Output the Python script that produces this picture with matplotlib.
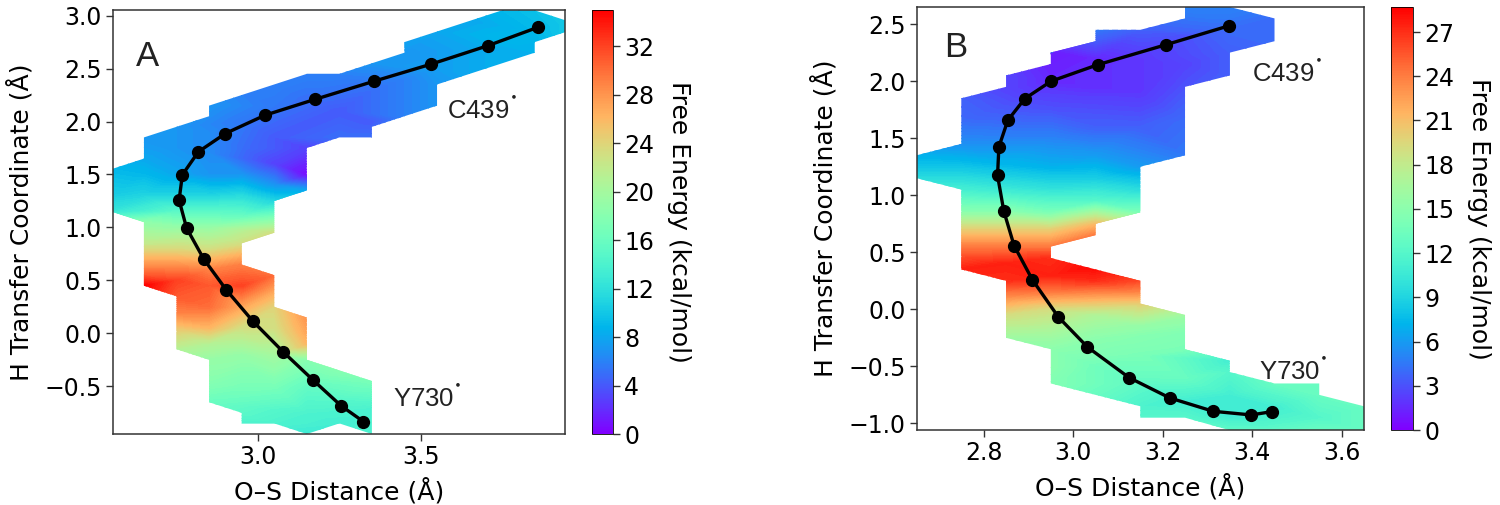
import matplotlib
matplotlib.use('Agg')
import numpy as np
import matplotlib.pyplot as plt
from matplotlib.path import Path

# Panel A: free energy read per column of the O-S grid
a_cols = [2.55, 2.65, 2.75, 2.85, 2.95, 3.05, 3.15, 3.25, 3.35, 3.45, 3.55, 3.65, 3.75, 3.85, 3.95]
a_y = [
    [1.55, 1.3, 1.15],
    [1.85, 1.65, 1.5, 1.3, 1.05, 0.85, 0.7, 0.55, 0.45],
    [1.95, 1.75, 1.5, 1.3, 1.15, 1.0, 0.8, 0.65, 0.5, 0.35, 0.2, 0.05, -0.15],
    [2.15, 1.9, 1.7, 1.5, 1.3, 1.15, 1.0, 0.8, 0.6, 0.45, 0.25, 0.05, -0.1, -0.25, -0.45, -0.65],
    [2.25, 2.0, 1.75, 1.5, 1.3, 1.1, 0.85, 0.65, 0.45, 0.25, 0.05, -0.2, -0.5, -0.85],
    [2.35, 2.15, 1.85, 1.6, 1.4, 1.25, 0.95, 0.55, 0.4, 0.25, 0.05, -0.2, -0.5, -0.85],
    [2.45, 2.2, 1.75, 1.5, 1.35, 0.15, 0.0, -0.1, -0.25, -0.5, -0.75, -0.95],
    [2.45, 2.1, 1.85, -0.35, -0.6, -0.85],
    [2.55, 2.3, 2.0, 1.85, -0.45, -0.7, -0.95],
    [2.65, 2.4, 2.05],
    [2.85, 2.5, 2.35, 2.15],
    [2.95, 2.7, 2.45],
    [3.05, 2.8, 2.55],
    [3.05, 2.85, 2.65],
    [2.95, 2.85],
]
a_energy = [
    [9, 10.5, 12.5],
    [7, 8, 9, 11, 18.5, 22, 26.5, 31, 35],
    [7, 7, 8, 11, 15, 19, 23.5, 28, 32, 31, 29, 25, 21],
    [7, 6.5, 6.5, 7, 11, 15, 19, 23, 29, 31, 30, 26, 21, 19, 18, 16],
    [6, 5.5, 5, 7, 11.5, 16, 23, 29, 32, 27, 23, 19, 17, 14],
    [6, 5.5, 4, 3, 7, 11, 23, 30, 27, 24, 23, 20, 17, 14],
    [6, 5, 3, 0.5, 8, 28, 27, 26, 18, 15.5, 14, 13],
    [6, 4, 5, 18, 15, 13.5],
    [7, 5, 4, 5, 17, 14, 14],
    [7, 6, 6],
    [8, 7.5, 7, 7],
    [8, 8, 8],
    [9, 9, 8.5],
    [9.5, 9, 8.5],
    [10, 10],
]
a_edge_x = [2.55, 2.65, 2.65, 2.85, 2.85, 3.15, 3.25, 3.45, 3.45, 3.75, 3.85, 3.95, 3.95, 3.85, 3.85,
            3.55, 3.55, 3.35, 3.35, 3.25, 3.15, 3.15, 3.05, 3.05, 2.95, 2.95, 3.05, 3.05, 3.15, 3.15,
            3.35, 3.35, 3.25, 3.15, 3.05, 2.95, 2.95, 2.85, 2.85, 2.75, 2.75, 2.65, 2.65, 2.55]
a_edge_y = [1.55, 1.65, 1.85, 2.05, 2.15, 2.45, 2.45, 2.65, 2.75, 3.05, 3.05, 2.95, 2.85, 2.75, 2.65,
            2.35, 2.15, 1.95, 1.85, 1.85, 1.75, 1.35, 1.25, 0.95, 0.85, 0.65, 0.55, 0.25, 0.15, -0.25,
            -0.45, -0.95, -0.85, -0.95, -0.85, -0.85, -0.75, -0.65, -0.25, -0.15, 0.35, 0.45, 1.05, 1.15]
a_path_x = [3.86, 3.707, 3.53, 3.356, 3.176, 3.022, 2.90, 2.817, 2.768, 2.758, 2.781, 2.834, 2.903, 2.985, 3.078, 3.169, 3.256, 3.324]
a_path_y = [2.89, 2.717, 2.54, 2.38, 2.21, 2.06, 1.887, 1.714, 1.497, 1.258, 0.994, 0.70, 0.41, 0.113, -0.176, -0.44, -0.685, -0.833]

# Panel B
b_cols = [2.65, 2.75, 2.85, 2.95, 3.05, 3.15, 3.25, 3.35, 3.45, 3.55, 3.65]
b_y = [
    [1.35, 1.25, 1.15],
    [1.85, 1.65, 1.45, 1.25, 1.05, 0.85, 0.7, 0.55, 0.45, 0.35],
    [2.05, 1.8, 1.5, 1.25, 1.05, 0.85, 0.7, 0.55, 0.4, 0.25, 0.1, -0.05, -0.25],
    [2.25, 2.0, 1.75, 1.5, 1.25, 1.05, 0.85, 0.7, 0.55, 0.45, 0.3, 0.15, 0.0, -0.2, -0.35, -0.5, -0.65],
    [2.45, 2.2, 1.9, 1.6, 1.35, 1.15, 0.95, 0.75, 0.65, 0.38, 0.25, 0.1, -0.05, -0.25, -0.5, -0.75],
    [2.45, 2.2, 1.9, 1.6, 1.25, 1.05, 0.85, 0.25, 0.15, 0.05, -0.15, -0.4, -0.65, -0.85, -0.95],
    [2.65, 2.4, 2.15, 1.95, 1.65, 1.35, -0.05, -0.2, -0.35, -0.6, -0.8, -0.95],
    [2.65, 2.45, 2.25, 2.05, -0.45, -0.55, -0.75, -0.95, -1.06],
    [2.55, 2.35, -0.65, -0.85, -1.06],
    [-0.65, -0.75, -0.95, -1.06],
    [-0.85, -1.06],
]
b_energy = [
    [7, 8, 9.5],
    [3.5, 4, 5.5, 8, 11, 15, 20, 24, 26, 27.5],
    [2.5, 3, 5, 7.5, 10.5, 15, 20, 24, 27.5, 27, 23, 19, 16],
    [1, 1.5, 3, 5, 7, 10, 14, 20, 24, 27, 27.5, 24, 19, 16.5, 15, 15, 14.5],
    [4.5, 1.5, 2, 3.5, 6, 8.5, 12, 21, 24, 28.5, 27, 22, 17, 15, 13.5, 13],
    [3.5, 2, 2, 3.5, 6, 9.5, 14, 26, 23.5, 20, 15.5, 14, 12.5, 11.5, 12],
    [5, 3, 2.5, 3, 4, 4.5, 16, 14.5, 14, 13, 11, 12],
    [5, 4, 3.5, 3.5, 11, 12, 11, 11, 12.5],
    [4, 4, 13, 11, 12.5],
    [13, 13, 12, 13],
    [13, 13],
]
b_edge_x = [2.65, 2.75, 2.75, 2.85, 2.85, 2.95, 2.95, 3.05, 3.05, 3.15, 3.25, 3.25, 3.35, 3.45, 3.45,
            3.35, 3.35, 3.25, 3.25, 3.15, 3.15, 3.05, 3.05, 2.95, 2.95, 3.15, 3.15, 3.25, 3.25, 3.35,
            3.35, 3.45, 3.55, 3.55, 3.65, 3.65, 3.35, 3.25, 3.15, 3.15, 2.95, 2.95, 2.85, 2.85, 2.75, 2.75, 2.65]
b_edge_y = [1.35, 1.45, 1.85, 1.95, 2.05, 2.15, 2.25, 2.35, 2.45, 2.45, 2.55, 2.65, 2.65, 2.55, 2.35,
            2.25, 2.05, 1.95, 1.35, 1.25, 0.85, 0.75, 0.65, 0.55, 0.45, 0.25, 0.05, -0.05, -0.35, -0.45,
            -0.55, -0.65, -0.65, -0.75, -0.85, -1.06, -1.06, -0.95, -0.95, -0.85, -0.65, -0.35, -0.25, 0.25, 0.35, 1.05, 1.15]
b_path_x = [3.348, 3.208, 3.055, 2.951, 2.892, 2.854, 2.834, 2.831, 2.845, 2.868, 2.909, 2.967, 3.032, 3.125, 3.216, 3.313, 3.398, 3.444]
b_path_y = [2.485, 2.32, 2.144, 2.0, 1.847, 1.657, 1.424, 1.173, 0.861, 0.558, 0.258, -0.068, -0.331, -0.599, -0.777, -0.894, -0.926, -0.897]

W, H = 1500, 505
SPINE = '#333333'
FS_TICK = 17
FS_LABEL = 18


def px_axes(fig, left, top, right, bottom):
    return fig.add_axes([left / W, 1 - bottom / H, (right - left) / W, (bottom - top) / H])


def panel(fig, box, cbox, cols, ys, energy, edge_x, edge_y, path_x, path_y, vmax, xlim, ylim,
          xticks, yticks, cticks, letter, letter_xy, c_xy, y_xy):
    ax = px_axes(fig, *box)
    cax = px_axes(fig, *cbox)

    # flatten the columns to scattered nodes
    xs = np.concatenate([[c] * len(y) for c, y in zip(cols, ys)])
    yy = np.concatenate(ys)
    ee = np.concatenate(energy)
    levels = np.linspace(0, vmax, 141)
    cs = ax.tricontourf(xs, yy, ee, levels=levels, cmap='rainbow', extend='both')
    # only the sampled region is coloured
    outline = Path(np.column_stack([edge_x + edge_x[:1], edge_y + edge_y[:1]]), closed=True)
    cs.set_clip_path(outline, transform=ax.transData)

    ax.plot(path_x, path_y, '-o', color='black', lw=2.4, ms=8.5)
    ax.set_xlim(xlim)
    ax.set_ylim(ylim)
    ax.set_xticks(xticks)
    ax.set_yticks(yticks)
    ax.tick_params(labelsize=FS_TICK, length=5, width=1, color=SPINE, pad=3)
    for s in ax.spines.values():
        s.set_linewidth(1.1)
        s.set_color(SPINE)
    ax.set_xlabel('O–S Distance (Å)', fontsize=FS_LABEL, labelpad=6.5)
    ax.set_ylabel('H Transfer Coordinate (Å)', fontsize=FS_LABEL, labelpad=8)

    arial = 'Liberation Sans'
    ax.text(*letter_xy, letter, transform=ax.transAxes, fontsize=25, family=arial, va='center', ha='left', color='#222222')
    ax.text(*c_xy, 'C439$^{^{\\bullet}}$', transform=ax.transAxes, fontsize=18.5, family=arial, va='center', ha='left', color='#222222')
    ax.text(*y_xy, 'Y730$^{^{\\bullet}}$', transform=ax.transAxes, fontsize=18.5, family=arial, va='center', ha='left', color='#222222')

    sm = plt.cm.ScalarMappable(norm=plt.Normalize(0, vmax), cmap='rainbow')
    cb = fig.colorbar(sm, cax=cax)
    cb.set_ticks(cticks)
    cb.ax.tick_params(labelsize=FS_TICK, length=5, width=1, color=SPINE, pad=3)
    cb.outline.set_linewidth(0.6)
    cb.set_label('Free Energy (kcal/mol)', rotation=270, fontsize=FS_LABEL, labelpad=26.5)
    return ax


fig = plt.figure(figsize=(W / 100, H / 100), dpi=100)

panel(fig, (113, 10, 565, 434), (592, 10, 613, 434), a_cols, a_y, a_energy, a_edge_x, a_edge_y,
      a_path_x, a_path_y, 35.0, (2.555, 3.943), (-0.95, 3.053),
      [3.0, 3.5], [-0.5, 0.0, 0.5, 1.0, 1.5, 2.0, 2.5, 3.0], list(range(0, 33, 4)),
      'A', (0.05, 0.89), (0.74, 0.765), (0.62, 0.085))

panel(fig, (917, 7, 1364, 430), (1391, 7, 1413, 430), b_cols, b_y, b_energy, b_edge_x, b_edge_y,
      b_path_x, b_path_y, 28.7, (2.651, 3.65), (-1.058, 2.65),
      [2.8, 3.0, 3.2, 3.4, 3.6], [-1.0, -0.5, 0.0, 0.5, 1.0, 1.5, 2.0, 2.5], list(range(0, 28, 3)),
      'B', (0.06, 0.905), (0.75, 0.845), (0.765, 0.14))

fig.savefig('out.png', dpi=100)
